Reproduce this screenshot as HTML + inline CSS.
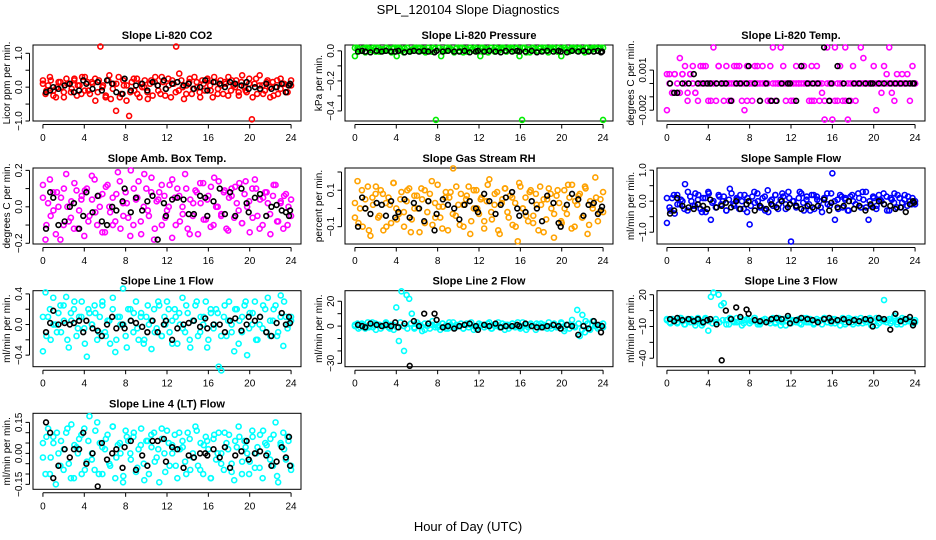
<!DOCTYPE html>
<html><head><meta charset="utf-8"><style>
html,body{margin:0;padding:0;background:#fff;}
svg{display:block;font-family:"Liberation Sans",Arial,sans-serif;}
</style></head><body>
<svg id="chart" width="936" height="540" viewBox="0 0 936 540" xmlns="http://www.w3.org/2000/svg">
<text x="468" y="14" text-anchor="middle" font-size="13">SPL_120104  Slope Diagnostics</text>
<text x="468" y="531" text-anchor="middle" font-size="13">Hour of Day (UTC)</text>
</svg>
<script>
const hourTicks = [0,4,8,12,16,20,24];
const blackHours = [0.3,0.7,1.0,1.5,2.1,2.6,3.0,3.5,3.9,4.2,4.8,5.3,5.7,6.2,6.7,7.1,7.7,7.9,8.5,9.0,9.6,10.1,10.6,11.1,11.7,11.9,12.5,13.0,13.6,14.1,14.6,15.2,15.7,15.9,16.5,17.1,17.6,18.1,18.6,19.2,19.7,19.9,20.5,21.0,21.6,22.1,22.6,23.1,23.5,23.8,23.9];

const co2Vals = [0.1,-0.2,0.05,0.2,-0.1,-0.3,0.15,0.0,-0.15,0.25,0.1,-0.05,0.2,-0.25,0.05,0.3,-0.1,0.15,-0.2,0.1,0.25,-0.15,1.2,0.05,-0.3,0.2,-0.35,0.1,-0.7,0.3,-0.2,0.05,-0.4,-0.85,0.15,-0.1,0.25,-0.3,0.0,0.2,-0.15,0.1,-0.25,0.3,0.05,-0.2,0.15,-0.05,0.25,-0.3,0.1,1.2,-0.1,0.2,-0.35,0.05,0.15,-0.2,0.3,0.0,-0.15,0.2,-0.1,0.25,0.05,-0.3,0.15,-0.05,0.2,-0.2,0.1,0.3,-0.1,0.05,0.2,-0.25,0.15,0.0,-0.15,0.25,-0.95,0.1,-0.2,0.35,0.05,-0.1,0.2,-0.3,0.15,0.0,-0.2,0.25,0.1,-0.15,0.05,0.2];
const co2ValsB = [0.2,-0.1,0.3,-0.25,0.0,0.15,-0.3,0.1,-0.15,0.25,0.05,-0.2,0.3,-0.1,0.15,-0.4,0.2,0.0,-0.25,0.35,-0.05,0.1,-0.3,0.2,0.05,-0.15,0.25,-0.2,0.1,0.0,-0.35,0.2,0.15,-0.1,0.3,-0.25,0.05,0.2,-0.15,0.4,0.0,-0.2,0.25,-0.05,0.15,-0.3,0.1,0.2,-0.1,0.3,-0.2,0.05,0.15,-0.25,0.2,0.0,-0.15,0.35,-0.1,0.1,-0.3,0.25,0.05,-0.2,0.15,0.0,-0.25,0.2,-0.05,0.1,-0.15,0.05];
const co2Black = [-0.15,-0.1,0.0,-0.05,0.05,0.1,-0.15,-0.1,0.2,0.1,-0.05,0.15,-0.1,0.2,0.1,-0.15,-0.2,0.25,-0.1,0.05,0.1,-0.1,0.15,0.05,0.2,-0.05,0.1,0.15,0.05,0.1,-0.05,0.0,0.2,-0.1,0.15,0.1,0.0,0.15,0.1,0.05,0.15,-0.05,0.0,-0.05,0.1,-0.05,0.0,0.1,-0.15,0.05,0.1];

const presVals = [-0.035,0.02,0.0,0.015,-0.01,0.02,0.005,0.02,-0.005,0.02,0.01,0.0,0.02,0.015,-0.01,0.02,-0.035,0.02,0.0,0.015,0.02,-0.005,0.01,0.02,0.0,0.02,0.015,-0.01,0.02,0.005,0.02,-0.46,0.02,-0.035,0.0,0.02,0.015,0.01,-0.01,0.02,0.0,0.02,0.015,-0.005,0.02,0.01,0.02,0.0,-0.035,0.02,0.015,-0.01,0.02,0.005,0.02,0.0,0.01,0.02,-0.005,0.02,0.015,0.0,0.02,-0.035,-0.46,0.02,0.01,-0.01,0.02,0.015,0.0,0.02,0.005,0.02,-0.01,0.02,0.015,0.0,0.02,-0.035,0.02,0.01,-0.005,0.02,0.015,0.0,0.02,0.01,-0.01,0.02,0.005,0.02,0.015,0.0,0.02,-0.46];
const presValsB = [0.02,0.01,0.0,0.02,0.015,0.005,0.02,-0.005,0.01,0.02,0.0,0.015,0.02,0.01,-0.01,0.02,0.005,0.015,0.02,0.0,0.01,0.02,-0.005,0.015,0.02,0.01,0.0,0.02,0.005,0.015,0.02,-0.01,0.01,0.02,0.0,0.015,0.02,0.005,0.01,0.02,-0.005,0.015,0.02,0.0,0.01,0.02,0.015,0.005,0.02,-0.01,0.01,0.02,0.0,0.015,0.02,0.005,0.01,0.02,-0.005,0.015,0.02,0.0,0.01,0.02,0.015,0.005,0.02,0.0,0.01,0.02,0.015,0.02];
const presBlack = [-0.005,0.0,-0.005,-0.01,0.0,-0.005,0.0,-0.005,-0.005,0.0,-0.01,-0.005,0.0,-0.005,0.0,-0.005,-0.01,0.0,-0.005,0.0,-0.005,-0.005,0.0,-0.01,-0.005,0.0,-0.005,0.0,-0.005,-0.01,0.0,-0.005,0.0,-0.005,-0.005,0.0,-0.01,-0.005,0.0,-0.005,0.0,-0.005,-0.01,0.0,-0.005,0.0,-0.005,-0.005,0.0,-0.01,-0.005];

const tempVals = [-0.002,0.0007,-0.0007,0.0007,-0.0007,0.0019,0.0007,0.0013,-0.0013,0.0007,0.0013,-0.0007,-0.0013,0.0013,0,0.0013,-0.0013,0,0.0027,-0.0013,0.0013,0,-0.0013,0.0013,0,-0.0013,0.0013,0,0.0013,-0.0013,-0.002,0.0013,0,-0.0013,0.0013,0,-0.0013,0.0013,0,-0.0013,0.0013,0.0027,-0.0013,0,0.0027,0.0013,-0.0013,0,0,-0.0013,0.0013,0,0,0.0013,0,-0.0013,0.0013,-0.0013,0.0013,-0.0013,-0.0007,-0.0027,0.0027,-0.0013,-0.0027,0.0027,-0.0013,0.0013,-0.0013,0.0027,-0.0027,-0.0013,0.0013,-0.0013,0,0.0027,0.0019,0,0,0,0.0013,-0.002,0,-0.0007,0.0013,0.0007,0.0027,-0.0007,-0.0013,0.0007,0,0.0007,0,0.0007,-0.0013,0.0013,0];
const tempValsB = [0.0007,0,-0.0007,0.0007,0,-0.0007,0.0007,0,-0.0007,0.0007,0,-0.0007,0,0,0.0013,0,0,-0.0013,0,0,0.0013,0,0,0,-0.0013,0,0,0.0013,0,0,0,-0.0013,0,0,0,0.0013,0,0,0,0,-0.0013,0,0,0,0,0,0,0,-0.0013,0,0,0,0.0013,0,0,0,-0.0013,0,0,0,0,-0.0013,0,0,0,-0.0013,0,0,0,-0.0013,0,0,0,0,0,0,0,0,0,0,0,0,0,0,0,0,0,0,0,0,0,0,0,0,0,0,0];
const tempBlack = [0,-0.0007,-0.0007,0,0,0.0007,0,0,0,0,0,0,0,-0.0013,0,0,0,0.0013,0,-0.0013,0,-0.0013,-0.0013,0,0,0,-0.0013,0.0013,0,0,0,0.0027,-0.0013,0,0.0013,0,-0.0013,0,0,0,0,0,0,0,0,0,0,0,0,0,0];

const ambVals = [0.12,-0.18,0.02,-0.05,0.08,-0.15,0.0,0.05,-0.1,0.18,-0.08,0.03,-0.12,0.09,-0.02,0.06,-0.16,0.1,-0.05,0.04,0.15,-0.1,0.0,0.07,-0.14,0.12,-0.03,0.05,-0.08,0.19,-0.12,0.02,0.08,-0.06,0.2,-0.1,0.04,0.14,-0.15,0.0,0.1,-0.05,0.16,-0.18,0.03,0.08,-0.1,0.06,-0.02,0.12,-0.17,0.05,0.1,-0.08,0.0,0.18,-0.12,0.04,-0.05,0.09,-0.15,0.02,0.13,-0.07,0.06,0.11,-0.1,0.0,0.14,-0.04,0.08,-0.12,0.05,0.1,-0.06,0.02,0.13,-0.09,0.07,0.0,-0.14,0.1,0.15,-0.05,0.04,-0.1,0.08,0.02,-0.15,0.06,0.12,-0.08,0.03,-0.12,0.07,0.0,-0.05];
const ambValsB = [0.05,-0.1,0.15,-0.02,0.08,-0.18,0.1,0.0,-0.06,0.13,-0.12,0.04,0.09,-0.08,0.17,-0.03,0.06,-0.14,0.11,0.0,-0.1,0.07,0.14,-0.05,0.02,-0.16,0.1,0.05,-0.08,0.18,-0.02,0.08,-0.12,0.04,0.12,-0.06,0.0,0.15,-0.1,0.06,-0.04,0.1,-0.15,0.02,0.08,0.13,-0.07,0.04,-0.11,0.16,0.0,-0.05,0.09,-0.13,0.06,0.11,-0.02,-0.09,0.14,0.03,-0.06,0.1,-0.12,0.05,0.08,-0.04,0.12,-0.08,0.02,0.06,-0.1,0.04];
const ambBlack = [-0.12,0.08,0.05,-0.1,-0.08,0.0,0.02,-0.12,-0.05,0.08,-0.03,0.06,-0.08,-0.1,0.0,-0.02,0.03,0.1,-0.03,0.05,-0.02,0.03,0.06,-0.18,0.02,-0.05,0.04,0.05,0.04,-0.04,-0.04,0.06,0.05,-0.05,0.03,0.1,-0.04,0.08,-0.05,0.1,0.02,-0.03,0.05,0.07,-0.05,0.0,0.01,-0.02,-0.03,-0.05,-0.02];

const rhVals = [-0.05,0.15,0.0,-0.1,0.05,0.12,-0.15,0.02,0.08,-0.05,0.1,-0.12,0.03,0.06,-0.08,0.14,0.0,-0.03,0.09,-0.1,0.04,0.11,-0.06,0.0,0.07,-0.13,0.05,0.1,-0.02,0.08,-0.09,0.03,0.13,-0.05,0.01,0.06,-0.12,0.09,0.22,-0.04,0.02,0.08,-0.1,0.05,0.12,-0.07,0.0,0.1,-0.03,0.06,-0.11,0.04,0.16,-0.06,0.02,0.09,-0.14,0.05,0.11,-0.02,0.07,-0.09,0.03,-0.18,0.12,0.0,0.06,-0.07,0.1,-0.04,0.08,-0.12,0.02,0.05,-0.06,0.11,0.0,-0.16,0.07,0.03,-0.08,0.1,-0.03,0.06,0.13,-0.1,0.02,0.08,-0.05,0.12,-0.14,0.04,0.0,0.17,-0.07,0.05,-0.02];
const rhValsB = [0.03,-0.08,0.1,0.0,-0.12,0.06,0.12,-0.04,0.08,-0.1,0.02,0.14,-0.06,0.05,-0.02,0.1,-0.13,0.07,0.0,0.11,-0.08,0.04,0.15,-0.05,0.01,-0.11,0.09,0.06,-0.03,0.12,-0.09,0.02,0.07,-0.14,0.1,0.0,0.05,-0.07,0.13,-0.02,0.08,-0.12,0.03,0.11,-0.05,0.06,-0.1,0.14,0.0,-0.04,0.09,-0.08,0.02,0.12,-0.13,0.05,0.08,-0.03,0.1,-0.07,0.0,0.13,-0.11,0.04,0.07,-0.05,0.11,-0.09,0.02,0.06,-0.02,0.09];
const rhBlack = [-0.1,0.06,0.0,-0.03,0.03,0.02,-0.04,0.04,-0.05,-0.02,0.05,-0.05,0.03,0.0,-0.07,0.04,-0.12,-0.03,0.05,0.02,0.0,-0.06,0.02,0.04,0.0,-0.02,0.08,0.04,-0.03,0.02,0.06,0.09,0.0,-0.04,-0.02,0.04,0.0,-0.07,0.07,0.03,-0.08,-0.1,0.02,0.08,0.05,-0.04,0.02,0.03,-0.03,-0.01,0.01];

const sampVals = [-0.7,-0.2,0.1,-0.4,0.2,-0.1,0.0,0.55,-0.3,0.15,-0.15,0.25,0.05,-0.25,0.1,-0.35,0.3,-0.6,0.0,-0.2,0.2,-0.1,0.15,-0.3,0.05,0.25,-0.15,0.1,-0.25,0.0,0.2,-0.35,-0.75,0.15,-0.05,0.25,-0.2,0.1,-0.3,0.35,0.0,-0.15,0.2,-0.25,0.05,0.15,-0.1,0.3,-1.3,0.0,-0.2,0.1,0.25,-0.3,0.05,-0.1,0.2,-0.25,0.15,0.0,-0.35,0.1,0.25,-0.15,0.9,-0.6,0.05,0.2,-0.2,0.1,-0.3,0.15,0.0,-0.1,0.25,-0.2,0.05,0.3,-0.6,-0.15,0.1,-0.25,0.2,0.0,-0.1,0.15,-0.3,0.05,0.25,-0.2,0.1,-0.05,0.2,-0.15,0.0,0.1,-0.1];
const sampValsB = [0.1,-0.3,0.2,-0.1,0.05,-0.25,0.3,0.0,-0.15,0.2,-0.35,0.1,0.25,-0.05,-0.2,0.15,0.0,-0.3,0.4,-0.1,0.05,0.2,-0.25,0.1,-0.15,0.3,0.0,-0.2,0.15,-0.35,0.05,0.2,-0.1,0.25,-0.25,0.1,0.0,-0.15,0.3,-0.05,0.15,-0.3,0.2,0.05,-0.2,0.1,-0.1,0.25,0.0,-0.25,0.15,0.05,-0.3,0.2,-0.1,0.1,0.3,-0.2,0.0,0.15,-0.15,0.05,0.25,-0.3,0.1,-0.05,0.2,-0.2,0.05,0.15,-0.1,0.0];
const sampBlack = [-0.4,-0.3,0.1,-0.15,-0.2,-0.25,-0.1,-0.15,-0.25,0.05,-0.2,-0.15,-0.05,-0.2,0.0,-0.25,-0.1,0.0,-0.3,-0.15,-0.25,-0.1,-0.2,0.0,-0.2,-0.1,-0.15,-0.25,-0.15,-0.2,-0.15,0.05,-0.3,-0.05,-0.2,-0.15,0.0,-0.25,-0.15,-0.3,-0.1,-0.2,0.0,-0.1,-0.15,-0.25,-0.2,-0.35,-0.1,0.0,-0.05];

const l1Vals = [-0.35,0.42,0.1,-0.2,0.35,0.0,0.15,-0.1,0.25,0.36,-0.3,0.05,0.2,-0.15,0.1,0.3,-0.05,-0.42,0.15,0.0,0.25,-0.2,0.1,0.3,-0.1,0.05,-0.25,0.2,-0.36,0.1,0.0,0.47,-0.15,0.2,0.05,-0.1,0.3,-0.2,0.15,-0.25,0.1,0.0,-0.32,0.2,-0.05,0.25,-0.15,0.1,0.3,-0.1,0.05,0.2,-0.25,0.0,0.35,-0.1,0.15,-0.3,0.05,0.25,-0.15,0.1,0.0,0.3,-0.2,0.15,-0.05,0.2,-0.55,-0.6,0.1,-0.15,0.3,0.0,-0.35,0.2,0.05,-0.1,0.25,-0.4,0.15,0.0,0.3,-0.2,0.1,-0.05,0.2,0.35,-0.15,0.05,0.25,-0.1,0.38,-0.28,0.1,0.0,0.05];
const l1ValsB = [0.1,-0.15,0.2,0.0,-0.1,0.25,0.05,-0.2,0.15,0.3,-0.05,0.1,-0.25,0.2,0.0,0.15,-0.1,0.25,-0.15,0.05,0.35,-0.2,0.1,0.0,-0.3,0.2,0.15,-0.05,0.1,-0.2,0.25,0.05,-0.1,0.3,-0.15,0.0,0.2,-0.25,0.1,0.15,-0.05,0.25,-0.2,0.05,0.3,-0.1,0.1,-0.3,0.2,0.0,0.15,-0.15,0.25,0.05,-0.1,0.2,-0.25,0.1,0.3,-0.05,0.15,-0.2,0.0,0.25,-0.1,0.05,0.2,-0.15,0.1,0.3,-0.05,0.1];
const l1Black = [-0.1,0.02,0.18,0.0,0.02,0.0,0.02,0.05,-0.1,0.05,-0.05,-0.08,-0.15,0.0,0.1,-0.05,0.0,-0.05,0.05,0.02,-0.03,-0.1,0.05,-0.1,0.0,0.05,-0.2,-0.05,0.0,0.02,0.05,-0.03,0.08,-0.05,0.0,0.0,-0.1,0.05,0.08,-0.08,0.0,0.1,0.05,0.1,-0.1,-0.15,0.02,0.15,0.0,0.1,0.02];

const l2Vals = [0,2,-1,1,-2,3,0,-1,2,1,-2,0,3,-1,1,-3,15,-12,28,-20,25,22,10,-2,3,1,-4,2,0,-2,4,1,-1,-3,2,0,-2,1,3,-1,0,2,-2,1,-1,3,0,-2,2,1,-1,0,3,-2,1,0,-1,2,-3,1,0,2,-1,3,-2,0,1,-1,2,0,-3,1,2,-1,0,3,-2,1,-1,0,2,-4,1,-2,5,0,13,-8,9,-5,2,-3,4,0,-2,1,-1];
const l2ValsB = [1,-2,2,0,-1,3,-3,1,0,2,-2,1,-1,3,0,-2,2,-1,1,0,-3,2,1,-1,0,2,-2,3,-1,1,0,-2,2,1,-3,0,1,-1,2,-2,0,3,-1,1,-2,2,0,-1,3,-3,1,0,2,-1,1,-2,0,2,-1,3,-2,1,0,-1,2,-3,4,-2,1,0,-1,2];
const l2Black = [1,0,-1,2,1,0,1,0,3,-1,2,-32,4,0,10,2,10,5,-1,0,-2,0,1,2,0,-3,1,0,2,-1,0,0,1,0,2,0,-1,-1,0,1,0,-2,1,0,-7,0,-2,4,1,-5,0];

const l3Vals = [-4,-6,-3,-5,-7,-2,-5,-8,-3,-6,-4,-9,-2,-5,-7,-3,-14,18,22,-6,20,10,12,-4,-8,-3,-6,-2,-5,-9,-4,-3,-7,-5,-2,-6,-8,-4,-3,-5,-7,-2,-6,-4,-9,-3,-5,-2,-7,-4,-6,-3,-8,-5,-2,-6,-4,-7,-3,-5,-8,-2,-6,-4,-3,-7,-5,-9,-2,-6,-4,-3,-8,-5,-7,-2,-4,-6,-3,-9,-5,-2,-7,-4,15,-6,-3,-5,0,-8,-4,-2,-6,-3,-5,-7,-4];
const l3ValsB = [-3,-7,-4,-6,-2,-8,-5,-3,-6,-4,-9,-2,-5,-7,-3,-6,-4,-8,-2,-5,-6,-3,-7,-4,-5,-2,-8,-6,-3,-5,-4,-7,-2,-6,-9,-3,-5,-4,-7,-2,-6,-3,-8,-5,-4,-2,-6,-7,-3,-5,-4,-8,-2,-6,-3,-5,-7,-4,-2,-6,-9,-3,-5,-4,-7,-2,-6,-8,-3,-5,-4,-6];
const l3Black = [-3,-5,-2,-4,-3,-5,-3,-6,-4,-3,-8,-42,5,-3,8,-1,6,2,-4,-5,-6,-3,-2,-3,0,-7,-4,-2,-3,-4,-6,-3,-2,-5,-4,-3,-6,-4,-5,-3,-4,-10,-2,-3,-13,2,-5,-3,-1,-9,-6];

const l4Vals = [0.05,-0.1,0.12,-0.02,0.08,-0.15,0.0,0.06,-0.08,0.1,-0.05,0.14,-0.12,0.03,0.07,-0.1,0.12,-0.04,0.18,0.0,-0.08,0.15,0.05,-0.1,0.02,0.09,-0.06,0.13,-0.12,0.04,0.0,-0.14,0.11,0.06,-0.03,0.08,-0.09,0.02,0.12,-0.05,0.06,-0.1,0.03,0.1,-0.02,-0.14,0.07,0.0,0.11,-0.06,0.04,0.09,-0.12,0.02,0.06,-0.04,0.1,-0.08,0.0,0.13,-0.06,0.05,-0.1,0.08,0.02,-0.12,0.07,-0.03,0.1,0.0,-0.08,0.05,0.09,-0.05,-0.13,0.03,0.08,-0.1,0.06,0.0,-0.04,0.11,-0.07,0.03,0.09,-0.12,0.05,0.0,0.07,-0.06,0.15,-0.14,0.04,0.1,-0.03,0.06,-0.08];
const l4ValsB = [-0.02,0.08,-0.1,0.05,0.1,-0.06,0.02,0.12,-0.12,0.04,0.0,0.09,-0.08,0.06,-0.03,0.11,-0.1,0.03,0.07,-0.05,0.13,-0.02,0.05,-0.11,0.08,0.0,0.1,-0.07,0.04,-0.13,0.06,0.09,-0.04,0.02,0.12,-0.09,0.05,0.0,-0.06,0.1,0.03,-0.1,0.07,-0.02,0.11,-0.08,0.04,0.06,-0.12,0.09,0.0,-0.05,0.1,0.02,-0.09,0.06,0.13,-0.04,0.03,-0.1,0.08,0.0,-0.07,0.11,0.04,-0.03,0.09,-0.11,0.05,0.02,0.08,-0.06];
const l4Black = [0.15,0.1,-0.12,-0.06,0.02,-0.02,0.02,0.02,0.1,-0.05,0.0,-0.16,0.05,-0.03,0.0,0.02,-0.07,0.03,0.06,-0.08,-0.01,-0.06,0.06,0.06,0.07,-0.04,0.03,0.02,-0.07,-0.01,-0.02,0.0,0.0,-0.01,0.02,-0.02,0.03,-0.07,-0.01,0.01,0.06,-0.03,0.0,0.01,-0.01,-0.06,-0.04,0.03,-0.02,0.08,-0.06];

const NS = "http://www.w3.org/2000/svg";
const svg = document.getElementById('chart');
const rowTops = [45,168,290.7,413.3];
const BOXW = 268, BOXH = 76;

function mk(tag, attrs, parent){
  const e = document.createElementNS(NS, tag);
  for (const k in attrs) e.setAttribute(k, attrs[k]);
  parent.appendChild(e);
  return e;
}

function drawPanel(col, row, key, title, ylab, ymin, ymax, ticks, labels, labelText, vals, valsB, black, color){
  const L = 33 + 312*col, T = rowTops[row], B = T + BOXH;
  const g = mk('g', {}, svg);
  
  
  const xs = h => L + (h + 0.96) / 25.92 * BOXW;
  const ys = v => B - (v - ymin) / (ymax - ymin) * BOXH;
  const t = mk('text', {x: L + BOXW/2, y: T - 6, 'text-anchor':'middle', 'font-size':11, 'font-weight':'bold'}, g);
  t.textContent = title;
  
  
  const yl = mk('text', {x: 0, y: 0, 'text-anchor':'middle', 'font-size':10, transform:`translate(${L-23},${T+BOXH/2}) rotate(-90)`}, g);
  yl.textContent = ylab;
  
  
  const xa = mk('g', {stroke:'#000', 'stroke-width':1}, g);
  
  
  mk('line', {x1: xs(hourTicks[0]), x2: xs(hourTicks[hourTicks.length-1]), y1: B+3.5, y2: B+3.5}, xa);
  hourTicks.forEach(h => {
    mk('line', {x1: xs(h), x2: xs(h), y1: B+3.5, y2: B+7.5}, xa);
    const tl = mk('text', {x: xs(h), y: B+20, 'text-anchor':'middle', 'font-size':10, stroke:'none', fill:'#000'}, xa);
    tl.textContent = h;
  });
  const ya = mk('g', {stroke:'#000', 'stroke-width':1}, g);
  
  
  mk('line', {x1: L-3.5, x2: L-3.5, y1: ys(ticks[0]), y2: ys(ticks[ticks.length-1])}, ya);
  ticks.forEach(v => mk('line', {x1: L-7.5, x2: L-3.5, y1: ys(v), y2: ys(v)}, ya));
  labels.forEach((v, i) => {
    const tl = mk('text', {x:0, y:0, 'text-anchor':'middle', 'font-size':10, stroke:'none', fill:'#000', transform:`translate(${L-11},${ys(v)}) rotate(-90)`}, ya);
    tl.textContent = labelText[i];
  });
  const box = mk('rect', {x:L, y:T, width:BOXW, height:BOXH, fill:'none', stroke:'#000', 'stroke-width':1}, g);
  
  
  const pts = mk('g', {fill:'none', stroke:color, 'stroke-width':1.6}, g);
  
  
  [vals, valsB].forEach(arr => {
    if (!arr) return;
    const n = arr.length;
    arr.forEach((v, i) => {
      const c = mk('circle', {cx: xs(i*24/(n-1)), cy: ys(v), r: 2.5}, pts);
      
      
    });
  });
  const bp = mk('g', {fill:'none', stroke:'#000', 'stroke-width':1.6}, g);
  
  
  black.forEach((v, i) => {
    if (i >= blackHours.length) return;
    const c = mk('circle', {cx: xs(blackHours[i]), cy: ys(v), r: 2.4}, bp);
    
    
  });
}

drawPanel(0,0,'co2','Slope Li-820 CO2','Licor ppm per min.',-1.0,1.245,[-1,-0.5,0,0.5,1],[-1,0,1],['\u22121.0','0.0','1.0'],co2Vals,co2ValsB,co2Black,'#ff0000');
drawPanel(1,0,'pressure','Slope Li-820 Pressure','kPa per min.',-0.467,0.039,[-0.4,-0.3,-0.2,-0.1,0],[-0.4,-0.2,0],['\u22120.4','\u22120.2','0.0'],presVals,presValsB,presBlack,'#00ee00');
drawPanel(2,0,'li820-temp','Slope Li-820 Temp.','degrees C per min.',-0.00281,0.00288,[-0.002,-0.001,0,0.001],[-0.002,0.001],['\u22120.002','0.001'],tempVals,tempValsB,tempBlack,'#ff00ff');
drawPanel(0,1,'amb-box-temp','Slope Amb. Box Temp.','degrees C per min.',-0.204,0.213,[-0.2,-0.1,0,0.1,0.2],[-0.2,0,0.2],['\u22120.2','0.0','0.2'],ambVals,ambValsB,ambBlack,'#ff00ff');
drawPanel(1,1,'gas-stream-rh','Slope Gas Stream RH','percent per min.',-0.195,0.222,[-0.1,0,0.1,0.2],[-0.1,0.1],['\u22120.1','0.1'],rhVals,rhValsB,rhBlack,'#ffa200');
drawPanel(2,1,'sample-flow','Slope Sample Flow','ml/min per min.',-1.38,1.07,[-1,-0.5,0,0.5,1],[-1,0,1],['\u22121.0','0.0','1.0'],sampVals,sampValsB,sampBlack,'#0000ff');
drawPanel(0,2,'line1-flow','Slope Line 1 Flow','ml/min per min.',-0.551,0.442,[-0.4,-0.2,0,0.2,0.4],[-0.4,0,0.4],['\u22120.4','0.0','0.4'],l1Vals,l1ValsB,l1Black,'#00ffff');
drawPanel(1,2,'line2-flow','Slope Line 2 Flow','ml/min per min.',-32.7,28.5,[-30,-20,-10,0,10,20],[-30,0,20],['\u221230','0','20'],l2Vals,l2ValsB,l2Black,'#00ffff');
drawPanel(2,2,'line3-flow','Slope Line 3 Flow','ml/min per min.',-48,23.8,[-40,-25,-10,5,20],[-40,-10,20],['\u221240','\u221210','20'],l3Vals,l3ValsB,l3Black,'#00ffff');
drawPanel(0,3,'line4-flow','Slope Line 4 (LT) Flow','ml/min per min.',-0.174,0.194,[-0.15,-0.1,-0.05,0,0.05,0.1,0.15],[-0.15,0,0.15],['\u22120.15','0.00','0.15'],l4Vals,l4ValsB,l4Black,'#00ffff');
</script>
</body></html>
